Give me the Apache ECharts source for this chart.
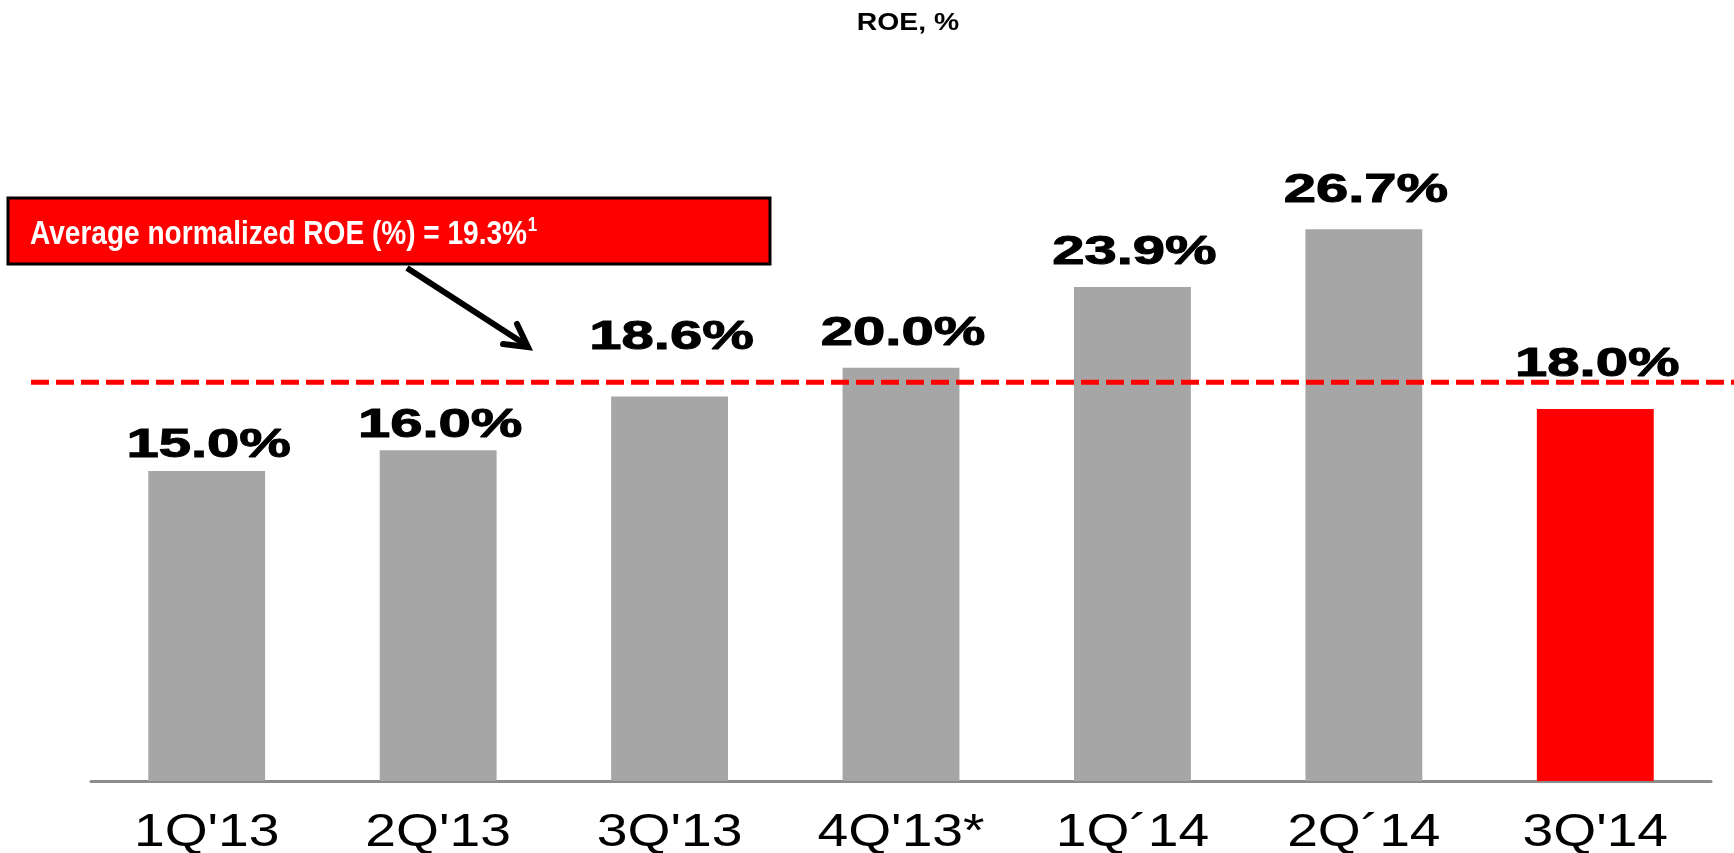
<!DOCTYPE html>
<html>
<head>
<meta charset="utf-8">
<title>ROE, %</title>
<script src="https://cdn.jsdelivr.net/npm/echarts@6/dist/echarts.min.js"></script>
<style>
  html, body { margin: 0; padding: 0; background: #ffffff; }
  #chart { width: 1734px; height: 853px; }
</style>
</head>
<body>
<div id="chart"></div>
<script>
// Quarterly return on equity
const categories = ["1Q'13", "2Q'13", "3Q'13", "4Q'13*", "1Q\u00B414", "2Q\u00B414", "3Q'14"];
const roeValues = [15.0, 16.0, 18.6, 20.0, 23.9, 26.7, 18.0];
const averageRoe = 19.3;
const currentIndex = 6;

// Layout / style constants
const GREY = '#a6a6a6';
const RED = '#ff0000';
const labelLift = [11, 10, 45, 20, 20, 24, 30];   // gap between bar top and its value label
const FONT = '"Liberation Sans", Arial, sans-serif';

const chart = echarts.init(document.getElementById('chart'), null, { renderer: 'canvas' });

const barData = roeValues.map((v, i) => ({
  value: v,
  itemStyle: { color: i === currentIndex ? RED : GREY }
}));
const pointData = roeValues.map((v, i) => [i, v]);

chart.setOption({
  animation: false,
  backgroundColor: '#ffffff',
  grid: { left: 91, right: 23, top: 161, bottom: 72 },
  xAxis: {
    type: 'category',
    data: categories,
    axisLine: { lineStyle: { color: '#8c8c8c', width: 3 } },
    axisTick: { show: false },
    axisLabel: { show: false }
  },
  yAxis: {
    type: 'value',
    min: 0,
    max: 30,
    show: false,
    splitLine: { show: false }
  },
  series: [
    {
      type: 'bar',
      data: barData,
      barWidth: '50.5%',
      z: 2
    },
    {
      // value labels above each bar
      type: 'custom',
      data: pointData,
      z: 5,
      renderItem: function (params, api) {
        const i = api.value(0);
        const v = api.value(1);
        const p = api.coord([i, v]);
        return {
          type: 'text',
          x: p[0] + 2,
          y: p[1] - labelLift[i] - 14,
          scaleX: 1.45,
          style: {
            text: v.toFixed(1) + '%',
            font: 'bold 40px ' + FONT,
            fill: '#000000',
            stroke: '#000000',
            lineWidth: 1,
            align: 'center',
            verticalAlign: 'middle'
          }
        };
      }
    },
    {
      // quarter names under the axis
      type: 'custom',
      data: pointData,
      z: 5,
      renderItem: function (params, api) {
        const i = api.value(0);
        const p = api.coord([i, 0]);
        return {
          type: 'text',
          x: p[0],
          y: p[1] + 52,
          scaleX: 1.2,
          style: {
            text: categories[i],
            font: '46px ' + FONT,
            fill: '#000000',
            align: 'center',
            verticalAlign: 'middle'
          }
        };
      }
    }
  ]
});

// Average reference line and its callout
const avgY = chart.convertToPixel({ yAxisIndex: 0 }, averageRoe);

chart.setOption({
  graphic: [
    {
      type: 'text',
      x: 908,
      y: 23,
      scaleX: 1.18,
      style: {
        text: 'ROE, %',
        font: 'bold 24px ' + FONT,
        fill: '#000000',
        align: 'center',
        verticalAlign: 'middle'
      }
    },
    {
      type: 'line',
      z: 10,
      shape: { x1: 31, y1: avgY, x2: 1734, y2: avgY },
      style: { stroke: RED, lineWidth: 5, lineDash: [18, 7] }
    },
    {
      type: 'rect',
      z: 10,
      shape: { x: 8, y: 198, width: 762, height: 66 },
      style: { fill: RED, stroke: '#000000', lineWidth: 3 }
    },
    {
      type: 'text',
      z: 11,
      x: 30,
      y: 235,
      scaleX: 0.85,
      style: {
        text: '{m|Average normalized ROE (%) = ' + averageRoe.toFixed(1) + '%}{s|1}',
        align: 'left',
        verticalAlign: 'middle',
        rich: {
          m: { font: 'bold 33px ' + FONT, fill: '#ffffff', lineHeight: 40 },
          s: { font: 'bold 20px ' + FONT, fill: '#ffffff', lineHeight: 20, verticalAlign: 'top', padding: [0, 0, 0, 1] }
        }
      }
    },
    {
      type: 'polyline',
      z: 10,
      shape: { points: [[407, 268], [526, 345]] },
      style: { stroke: '#000000', lineWidth: 6, fill: null }
    },
    {
      type: 'polyline',
      z: 10,
      shape: { points: [[517, 324], [528, 347], [503, 344]] },
      style: { stroke: '#000000', lineWidth: 6, fill: null, lineJoin: 'miter', lineCap: 'round' }
    }
  ]
});
</script>
</body>
</html>
